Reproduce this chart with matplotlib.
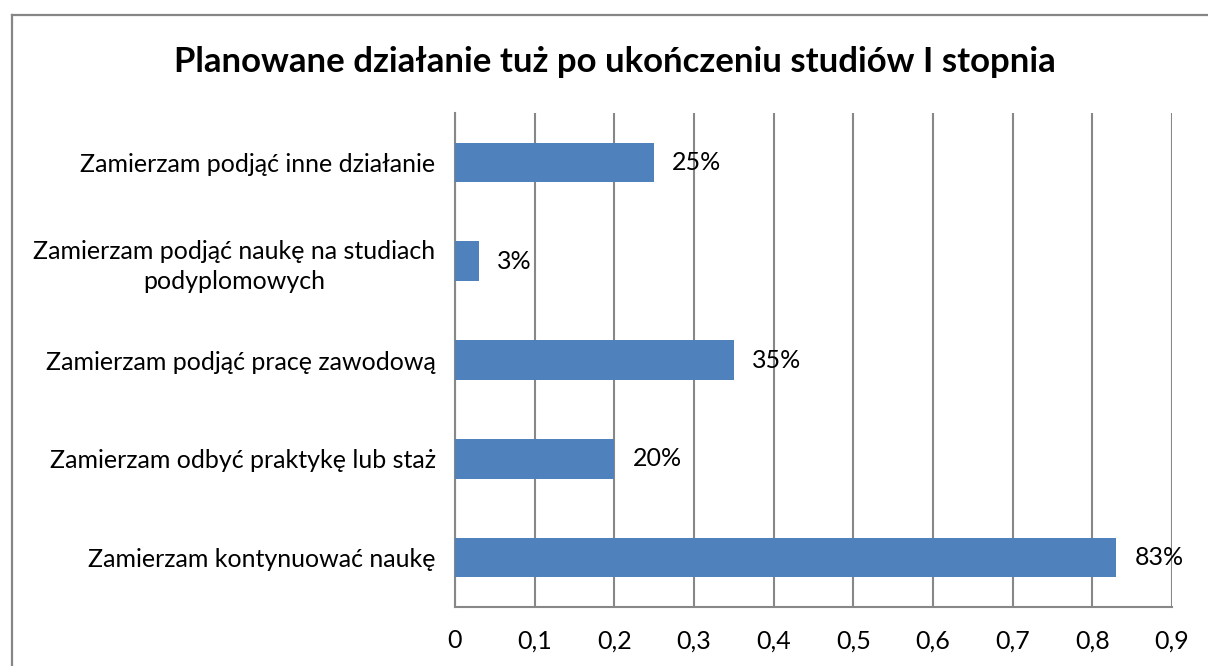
import matplotlib.pyplot as plt
from matplotlib.lines import Line2D

plt.rcParams['font.family'] = ['Lato', 'DejaVu Sans']

# Data (bottom to top, as drawn)
categories = [
    "Zamierzam kontynuować naukę",
    "Zamierzam odbyć praktykę lub staż",
    "Zamierzam podjąć pracę zawodową",
    "Zamierzam podjąć naukę na studiach\npodyplomowych",
    "Zamierzam podjąć inne działanie",
]
values = [0.83, 0.20, 0.35, 0.03, 0.25]
labels = ["83%", "20%", "35%", "3%", "25%"]
xticks = [0, 0.1, 0.2, 0.3, 0.4, 0.5, 0.6, 0.7, 0.8, 0.9]
xticklabels = ["0", "0,1", "0,2", "0,3", "0,4", "0,5", "0,6", "0,7", "0,8", "0,9"]

W, H = 1208, 666
fig = plt.figure(figsize=(W / 100, H / 100), dpi=100)
ax = fig.add_axes([455 / W, 1 - 607 / H, (1172 - 455) / W, (607 - 113) / H])

grid_c = "#878787"
ypos = range(len(categories))
ax.barh(ypos, values, height=0.4, color="#4F81BD", zorder=3)
for y, v, lab in zip(ypos, values, labels):
    ax.annotate(lab, (v, y), xytext=(13, 0), textcoords="offset points",
                ha="left", va="center", fontsize=18, zorder=4)

ax.set_xlim(0, 0.9)
ax.set_ylim(-0.5, len(categories) - 0.5)
ax.set_xticks(xticks)
ax.set_xticklabels(xticklabels, fontsize=18)
ax.set_yticks(list(ypos))
ax.set_yticklabels(categories, fontsize=18, multialignment="center", linespacing=1.35)
ax.tick_params(axis="both", length=0)
ax.tick_params(axis="x", pad=16)
ax.tick_params(axis="y", pad=14)
ax.xaxis.grid(True, color=grid_c, linewidth=1.5, zorder=0)
for s in ["top", "right"]:
    ax.spines[s].set_visible(False)
for s in ["left", "bottom"]:
    ax.spines[s].set_color(grid_c)
    ax.spines[s].set_linewidth(1.5)

fig.text(615 / W, 1 - 62 / H, "Planowane działanie tuż po ukończeniu studiów I stopnia",
         ha="center", va="center", fontsize=25, fontweight="bold")

# chart border (partly cut off at right/bottom)
bx, by = 11.5 / W, 1 - 14.5 / H
fig.add_artist(Line2D([bx, 1.0], [by, by], color="#868686", linewidth=1.6, transform=fig.transFigure))
fig.add_artist(Line2D([bx, bx], [0.0, by], color="#868686", linewidth=1.6, transform=fig.transFigure))

fig.savefig("out.png", dpi=100)
